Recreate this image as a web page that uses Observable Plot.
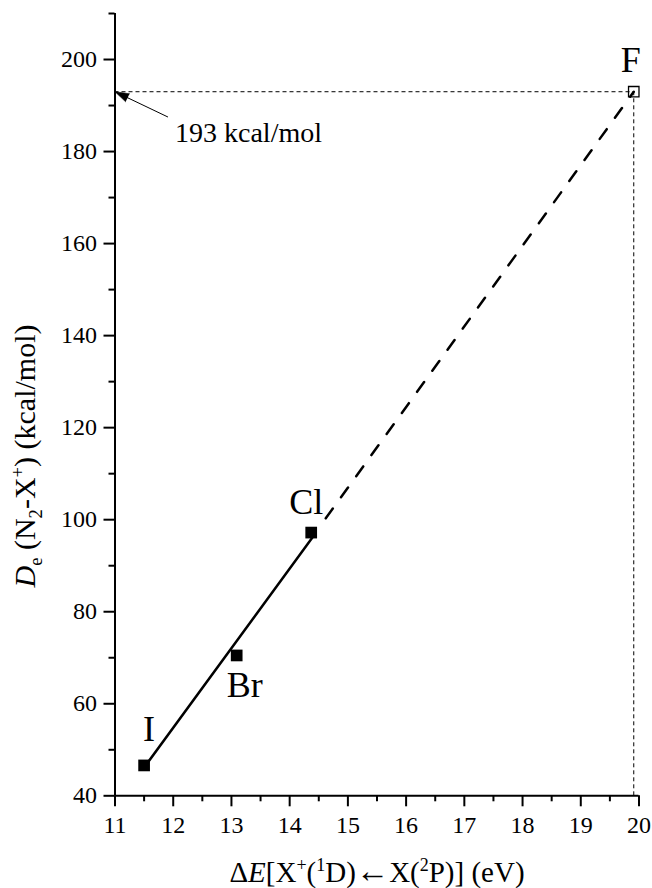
<!DOCTYPE html>
<html><head><meta charset="utf-8">
<script src="https://cdn.jsdelivr.net/npm/d3@7"></script>
<script src="https://cdn.jsdelivr.net/npm/@observablehq/plot@0.6"></script>
<style>html,body{margin:0;padding:0;background:#fff;overflow:hidden} #chart svg{display:block} #chart svg text{font-family:"Liberation Serif","Times New Roman",serif}</style>
</head><body><div id="chart"></div>
<script>
// ---- data ----
const elements = ["I", "Br", "Cl", "F"];
const deltaE = [11.5, 13.09, 14.37, 19.91];     // eV
const De = [46.6, 70.5, 97.2, 193];             // kcal/mol
const measured = [true, true, true, false];     // F is the extrapolated point (open square)
const fitSolidX = [11.55, 14.40];
const fitSolidY = [47.0, 96.3];
const fitDashX = [14.62, 19.91];
const fitDashY = [100.3, 193];
const xTicks = [11, 12, 13, 14, 15, 16, 17, 18, 19, 20];
const xMinorTicks = [11.5, 12.5, 13.5, 14.5, 15.5, 16.5, 17.5, 18.5, 19.5];
const yTicks = [40, 60, 80, 100, 120, 140, 160, 180, 200];
const yMinorTicks = [50, 70, 90, 110, 130, 150, 170, 190, 210];
const annotationText = "193 kcal/mol";
const arrowTail = {x: 11.91, y: 187.5};

// ---- styles (label offsets in px) ----
const labelOffsets = [[5, -35.5], [8, 30.5], [-5, -30], [-3, -31]];
const FONT = "Liberation Serif";

const points = elements.map((name, i) => ({name, x: deltaE[i], y: De[i], measured: measured[i]}));
const solid = fitSolidX.map((x, i) => ({x, y: fitSolidY[i]}));
const dashed = fitDashX.map((x, i) => ({x, y: fitDashY[i]}));
const F = points[3];

const chart = Plot.plot({
  width: 652, height: 888,
  marginLeft: 114.5, marginRight: 13.5, marginTop: 13, marginBottom: 92.7,
  style: {fontFamily: FONT, background: "white", color: "black", overflow: "visible"},
  x: {domain: [11, 20]},
  y: {domain: [40, 210]},
  marks: [
    Plot.axisX({ticks: xTicks, tickSize: 11, tickPadding: 9, fontSize: 24, fontFamily: FONT, strokeWidth: 2, label: null}),
    Plot.axisX({ticks: xMinorTicks, tickSize: 6, strokeWidth: 2, tickFormat: () => "", label: null}),
    Plot.axisY({ticks: yTicks, tickSize: 11, tickPadding: 7, fontSize: 24, fontFamily: FONT, strokeWidth: 2, label: null}),
    Plot.axisY({ticks: yMinorTicks, tickSize: 6, strokeWidth: 2, tickFormat: () => "", label: null}),
    Plot.ruleX([11], {strokeWidth: 2}),
    Plot.ruleY([40], {strokeWidth: 2}),
    // reference dashed lines to F
    Plot.ruleY([F.y], {x1: 11, x2: F.x, strokeWidth: 1, strokeDasharray: "4,3"}),
    Plot.ruleX([F.x], {y1: 40, y2: F.y, strokeWidth: 1, strokeDasharray: "4,3"}),
    // fit line
    Plot.line(solid, {x: "x", y: "y", strokeWidth: 2.5}),
    Plot.line(dashed, {x: "x", y: "y", strokeWidth: 2.5, strokeDasharray: "12,14"}),
    // points
    Plot.dot(points.filter(d => d.measured), {x: "x", y: "y", symbol: "square", r: 6.6, fill: "black", stroke: "none"}),
    Plot.dot(points.filter(d => !d.measured), {x: "x", y: "y", symbol: "square", r: 5.9, fill: "none", stroke: "black", strokeWidth: 1.3}),
    // element labels
    ...points.map((p, i) => Plot.text([p], {x: "x", y: "y", text: "name", dx: labelOffsets[i][0], dy: labelOffsets[i][1],
      fontSize: 36, fontFamily: FONT, textAnchor: "middle", lineAnchor: "middle", fill: "black"})),
    // annotation with arrow
    Plot.link([{x1: arrowTail.x, y1: arrowTail.y, x2: 11, y2: F.y}], {x1: "x1", y1: "y1", x2: "x2", y2: "y2", strokeWidth: 1}),
    Plot.vector([{x: 11, y: F.y}], {x: "x", y: "y", shape: "spike", anchor: "end", rotate: -64.3, length: 14, r: 4.5, fill: "black", stroke: "black", strokeWidth: 0.5}),
    Plot.text([{x: 11, y: F.y}], {x: "x", y: "y", text: () => annotationText, dx: 60, dy: 41, fontSize: 28, fontFamily: FONT, textAnchor: "start", lineAnchor: "middle", fill: "black"})
  ]
});

document.getElementById("chart").append(chart);

// ---- axis titles with italic / sub / superscripts ----
const svg = d3.select(chart);
function richText(g, parts, size) {
  let shift = 0;
  for (const [t, kind] of parts) {
    const ts = g.append("tspan").text(t);
    let target = 0;
    if (kind === "sup") { target = -0.38 * size; ts.attr("font-size", size * 0.62); }
    else if (kind === "sub") { target = 0.22 * size; ts.attr("font-size", size * 0.62); }
    else if (kind === "i") ts.attr("font-style", "italic");
    else if (kind === "arrow") ts.attr("font-size", size * 1.15);
    ts.attr("dy", target - shift);
    shift = target;
  }
}
const xl = svg.append("text")
  .attr("x", 377).attr("y", 882)
  .attr("text-anchor", "middle").attr("font-size", 29).attr("font-family", FONT).attr("fill", "black");
richText(xl, [["Δ", "n"], ["E", "i"], ["[X", "n"], ["+", "sup"], ["(", "n"], ["1", "sup"], ["D)", "n"], ["←", "arrow"], ["X(", "n"], ["2", "sup"], ["P)] (eV)", "n"]], 29);

const yl = svg.append("text")
  .attr("transform", "translate(35,456) rotate(-90)")
  .attr("text-anchor", "middle").attr("font-size", 30).attr("font-family", FONT).attr("fill", "black");
richText(yl, [["D", "i"], ["e", "sub"], [" (N", "n"], ["2", "sub"], ["-X", "n"], ["+", "sup"], [") (kcal/mol)", "n"]], 30);

// force text layout so the installed serif font is used before the snapshot
chart.querySelectorAll("text").forEach(t => t.getBBox());
</script>
</body></html>
